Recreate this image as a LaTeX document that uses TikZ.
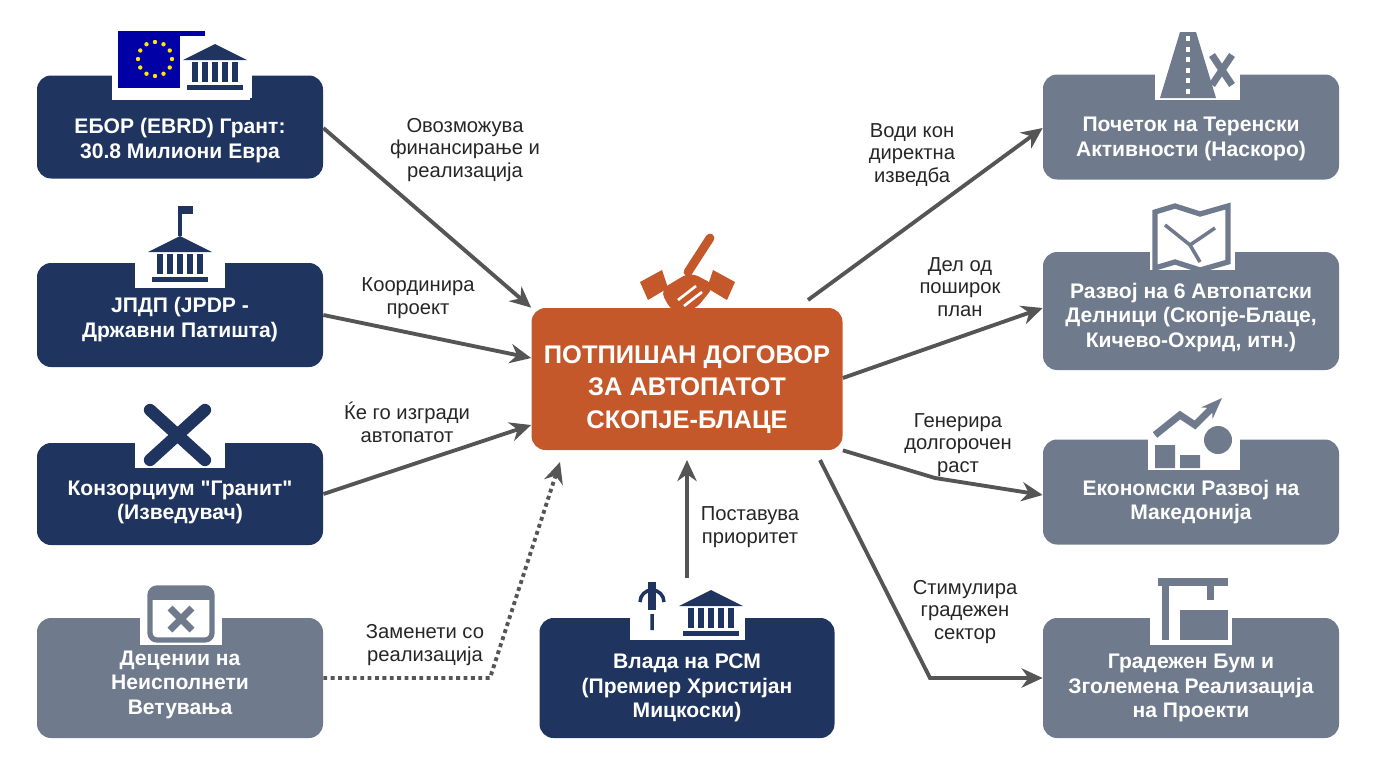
\documentclass[tikz,border=0pt]{standalone}
\usepackage{fontspec}
\setmainfont{Liberation Sans}
\newfontfamily\plainqt{Liberation Sans}
\usetikzlibrary{arrows.meta,positioning,calc}
\definecolor{navy}{HTML}{1F3560}
\definecolor{slate}{HTML}{6F7B8C}
\definecolor{rust}{HTML}{C4582A}
\definecolor{arr}{HTML}{555555}
\tikzset{
  box/.style={rounded corners=8pt, text=white, align=center, font=\bfseries\fontsize{12}{14}\selectfont, inner sep=2pt},
  navybox/.style={box, fill=navy},
  slatebox/.style={box, fill=slate},
  link/.style={line width=2.2pt, arr, -{Stealth[length=12pt,width=11pt]}},
  lbl/.style={align=center, font=\fontsize{11.5}{13}\selectfont, text=black!85},
}
\newcommand{\lift}[1]{\rule{0pt}{#1}}
\newcommand{\sq}{{\plainqt\bfseries"}}
% simple building icon
\newcommand{\bldg}[3]{% x, y (centre bottom), colour
  \fill[#3] (#1-28,#2) rectangle (#1+28,#2-5);
  \fill[#3] (#1-32,#2-30) -- (#1,#2-46) -- (#1+32,#2-30) -- cycle;
  \foreach \k in {-20,-10,0,10,20} \fill[#3] (#1+\k-3,#2-8) rectangle (#1+\k+3,#2-28);
}
\begin{document}
\begin{tikzpicture}[x=0.02cm,y=-0.02cm]
\useasboundingbox (0,0) rectangle (1376,768);
% boxes
\node[navybox, minimum width=286*0.02cm, minimum height=103*0.02cm] (ebrd) at (180,127) {\lift{24pt}ЕБОР (EBRD) Грант:\\30.8 Милиони Евра};
\node[navybox, minimum width=286*0.02cm, minimum height=104*0.02cm] (jpdp) at (180,315) {\lift{14pt}ЈПДП (JPDP -\\Државни Патишта)};
\node[navybox, minimum width=286*0.02cm, minimum height=102*0.02cm] (granit) at (180,494) {\lift{18pt}Конзорциум \sq Гранит\sq\\(Изведувач)};
\node[slatebox, minimum width=286*0.02cm, minimum height=120*0.02cm] (dec) at (180,678) {\lift{16pt}Децении на\\Неисполнети\\Ветувања};
\node[box, fill=rust, minimum width=311*0.02cm, minimum height=142*0.02cm, font=\bfseries\fontsize{14.5}{18.5}\selectfont] (deal) at (687,379) {\lift{22pt}ПОТПИШАН ДОГОВОР\\ЗА АВТОПАТОТ\\СКОПЈЕ-БЛАЦЕ};
\node[navybox, minimum width=295*0.02cm, minimum height=120*0.02cm] (gov) at (687,678) {\lift{20pt}Влада на РСМ\\(Премиер Христијан\\Мицкоски)};
\node[slatebox, minimum width=296*0.02cm, minimum height=105*0.02cm] (start) at (1191,127) {\lift{22pt}Почеток на Теренски\\Активности (Наскоро)};
\node[slatebox, minimum width=296*0.02cm, minimum height=118*0.02cm] (six) at (1191,311) {\lift{16pt}Развој на 6 Автопатски\\Делници (Скопје-Блаце,\\Кичево-Охрид, итн.)};
\node[slatebox, minimum width=296*0.02cm, minimum height=105*0.02cm] (econ) at (1191,492) {\lift{20pt}Економски Развој на\\Македонија};
\node[slatebox, minimum width=296*0.02cm, minimum height=120*0.02cm] (boom) at (1191,678) {\lift{20pt}Градежен Бум и\\Зголемена Реализација\\на Проекти};

% icons
\fill[white] (112,26) rectangle (250,100);
\fill[blue!65!black] (118,31) rectangle (205,88);
\foreach \a in {0,30,...,330} \fill[yellow!90!orange] ($(155,59)+(\a:17)$) circle (2.2);
\fill[white] (180,36) rectangle (252,98);
\bldg{215}{90}{navy}
\fill[white] (135,205) rectangle (225,288);
\bldg{180}{282}{navy}
\draw[navy, line width=2pt] (180,236) -- (180,206);
\fill[navy] (180,206) rectangle (193,214);
\fill[white] (135,395) rectangle (225,468);
\draw[navy, line width=7pt, line cap=round] (150,460) -- (205,410);
\draw[navy, line width=7pt, line cap=round] (150,410) -- (205,460);
\fill[white] (140,578) rectangle (222,645);
\draw[slate, line width=3pt, rounded corners=4pt, fill=white] (150,588) rectangle (212,640);
\fill[slate] (150,588) rectangle (212,600);
\draw[slate, line width=4pt] (170,608) -- (192,630) (192,608) -- (170,630);
\fill[white] (630,570) rectangle (745,640);
\draw[navy, line width=5pt, rounded corners=6pt] (652,582) -- (652,610);
\draw[navy, line width=2pt] (640,602) arc (180:360:12) (652,614) -- (652,630);
\bldg{711}{636}{navy}
% handshake
\fill[rust] (640,282) -- (662,270) -- (668,288) -- (648,300) -- cycle;
\fill[rust] (735,282) -- (713,270) -- (707,288) -- (727,300) -- cycle;
\fill[rust, rounded corners=5pt] (660,290) -- (690,272) -- (715,285) -- (695,310) -- (672,312) -- cycle;
\draw[white, line width=1.5pt] (678,300) -- (696,286) (684,306) -- (702,292);
\draw[rust, line width=5pt, line cap=round] (688,272) -- (710,238);
\fill[white] (1155,30) rectangle (1240,100);
\fill[slate] (1160,98) -- (1180,32) -- (1196,32) -- (1216,98) -- cycle;
\draw[white, line width=2pt, dashed] (1188,36) -- (1188,96);
\draw[slate, line width=4pt] (1212,55) -- (1232,85) (1232,55) -- (1212,85);
\fill[white] (1150,205) rectangle (1235,270);
\draw[slate, line width=3pt, fill=white] (1155,212) -- (1175,206) -- (1200,214) -- (1228,206) -- (1228,262) -- (1200,270) -- (1175,262) -- (1155,268) -- cycle;
\draw[slate, line width=2pt] (1165,225) -- (1190,245) -- (1215,228) (1190,245) -- (1200,262);
\fill[white] (1148,390) rectangle (1240,470);
\fill[slate] (1155,445) rectangle (1175,468) (1180,455) rectangle (1200,468);
\fill[slate] (1218,440) circle (14);
\draw[slate, line width=4pt, -{Stealth[length=12pt]}] (1155,435) -- (1180,415) -- (1195,425) -- (1222,398);
\fill[white] (1150,570) rectangle (1232,645);
\draw[slate, line width=4pt] (1165,640) -- (1165,578) (1158,582) -- (1228,582) (1210,582) -- (1210,600);
\fill[slate] (1180,610) rectangle (1228,640);

% labels
\node[lbl] (l1) at (465,150) {Овозможува\\финансирање и\\реализација};
\node[lbl] (l2) at (418,298) {Координира\\проект};
\node[lbl] (l3) at (407,422) {Ќе го изгради\\автопатот};
\node[lbl] (l4) at (425,645) {Заменети со\\реализација};
\node[lbl] (l5) at (750,527) {Поставува\\приоритет};
\node[lbl] (l6) at (912,155) {Води кон\\директна\\изведба};
\node[lbl] (l7) at (960,287) {Дел од\\поширок\\план};
\node[lbl] (l8) at (958,445) {Генерира\\долгорочен\\раст};
\node[lbl] (l9) at (965,612) {Стимулира\\градежен\\сектор};

% connectors
\draw[link] (ebrd.east |- 0,128) -- (deal.north west);
\draw[link] (jpdp.east) -- (deal.west |- 0,358);
\draw[link] (granit.east) -- (deal.west |- 0,425);
\coordinate (bend1) at (490,678);
\draw[line width=2.2pt, arr, dotted, -{Stealth[length=12pt,width=11pt]}] (dec.east) -- (bend1) -- (560,462);
\draw[link] (gov.north |- 0,578) -- (deal.south |- 0,460);
\draw[link] (808,300) -- (start.west |- 0,128);
\draw[link] (deal.east |- 0,378) -- (six.west |- 0,308);
\coordinate (bend2) at (935,478);
\draw[link] (deal.south east) -- (bend2) -- (econ.west |- 0,495);
\coordinate (bend3) at (930,678);
\draw[link] (820,460) -- (bend3) -- (boom.west);
\end{tikzpicture}
\end{document}
